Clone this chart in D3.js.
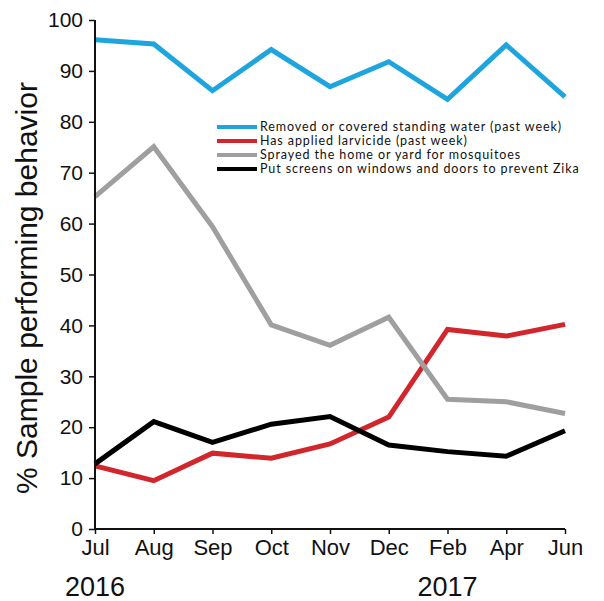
<!DOCTYPE html>
<html>
<head>
<meta charset="utf-8">
<script src="https://cdn.jsdelivr.net/npm/d3@7"></script>
<style>
    body { margin: 0; background: #fff; }
    svg text { font-family: "Liberation Sans", Arial, sans-serif; fill: #111; }
    .legend text { font-family: Lato, "Open Sans", sans-serif; }
</style>
</head>
<body>
<svg id="chart"></svg>
<script>
const months = ['Jul', 'Aug', 'Sep', 'Oct', 'Nov', 'Dec', 'Feb', 'Apr', 'Jun'];
const years = [{ label: '2016', month: 'Jul' }, { label: '2017', month: 'Feb' }];
const yTicks = [0, 10, 20, 30, 40, 50, 60, 70, 80, 90, 100];

const water = [96.1, 95.3, 86.1, 94.2, 86.9, 91.8, 84.4, 95.1, 84.9];
const larvicide = [12.4, 9.5, 14.9, 13.9, 16.7, 22.0, 39.2, 37.9, 40.2];
const sprayed = [65.3, 75.1, 59.4, 40.1, 36.1, 41.6, 25.5, 25.0, 22.7];
const screens = [12.8, 21.1, 17.0, 20.6, 22.1, 16.5, 15.2, 14.3, 19.3];

const seriesNames = [
    'Removed or covered standing water (past week)',
    'Has applied larvicide (past week)',
    'Sprayed the home or yard for mosquitoes',
    'Put screens on windows and doors to prevent Zika',
];
const seriesColors = ['#1fa5dd', '#d1262b', '#9f9f9f', '#000000'];

class Tendency {
    margin = { top: 20, right: 39, bottom: 72, left: 95 };

    constructor(svg, width = 604, height = 601) {
        this.svg = d3.select(svg);
        this.width = width;
        this.height = height;
    }

    initialize() {
        this.svg.attr('width', this.width).attr('height', this.height);
        this.xScale = d3.scalePoint()
            .domain(months)
            .range([this.margin.left, this.width - this.margin.right]);
        this.yScale = d3.scaleLinear()
            .domain([0, 100])
            .range([this.height - this.margin.bottom, this.margin.top]);
    }

    update(series) {
        const xScale = this.xScale;
        const yScale = this.yScale;
        const line = d3.line()
            .x((d, i) => xScale(months[i]))
            .y(d => yScale(d));

        // draw lines first so the axes sit on top
        this.svg.append('g')
            .selectAll('path')
            .data(series)
            .join('path')
            .attr('fill', 'none')
            .attr('stroke', d => d.color)
            .attr('stroke-width', 5)
            .attr('stroke-linejoin', 'miter')
            .attr('d', d => line(d.values));

        const yAxis = this.svg.append('g')
            .attr('transform', `translate(${this.margin.left}, 0)`)
            .call(d3.axisLeft(yScale).tickValues(yTicks).tickSize(6).tickPadding(6));

        const xAxis = this.svg.append('g')
            .attr('transform', `translate(0, ${yScale(0)})`)
            .call(d3.axisBottom(xScale).tickSize(5).tickPadding(5));

        [yAxis, xAxis].forEach(ax => {
            ax.select('.domain').attr('stroke', '#111').attr('stroke-width', 2);
            ax.selectAll('.tick line').attr('stroke', '#111').attr('stroke-width', 1.5);
        });
        yAxis.select('.domain').attr('d', `M-0,${yScale(0)}V${yScale(100)}`);
        xAxis.select('.domain').attr('d', `M${xScale.range()[0]},0H${xScale.range()[1]}`);
        yAxis.selectAll('.tick text').attr('font-size', 21).attr('fill', '#111');
        xAxis.selectAll('.tick text').attr('font-size', 22).attr('fill', '#111');

        this.svg.append('g')
            .selectAll('text')
            .data(years)
            .join('text')
            .attr('x', d => xScale(d.month))
            .attr('y', 596)
            .attr('text-anchor', 'middle')
            .attr('font-size', 27)
            .text(d => d.label);

        this.svg.append('text')
            .attr('transform', 'translate(37, 288) rotate(-90)')
            .attr('text-anchor', 'middle')
            .attr('font-size', 30)
            .text('% Sample performing behavior');

        const legend = this.svg.append('g')
            .attr('class', 'legend')
            .attr('transform', 'translate(217, 127)');
        const rows = legend.selectAll('g')
            .data(series)
            .join('g')
            .attr('transform', (d, i) => `translate(0, ${i * 14})`);
        rows.append('line')
            .attr('x1', 0).attr('x2', 40)
            .attr('stroke', d => d.color)
            .attr('stroke-width', 4);
        rows.append('text')
            .attr('x', 43)
            .attr('dy', '0.35em')
            .attr('font-size', 12.5)
            .attr('letter-spacing', 0.9)
            .text(d => d.name);
    }
}

const seriesValues = [water, larvicide, sprayed, screens];
const series = seriesNames.map((name, i) => ({
    name: name,
    color: seriesColors[i],
    values: seriesValues[i],
}));

const chart = new Tendency('#chart');
chart.initialize();
chart.update(series);
</script>
</body>
</html>
